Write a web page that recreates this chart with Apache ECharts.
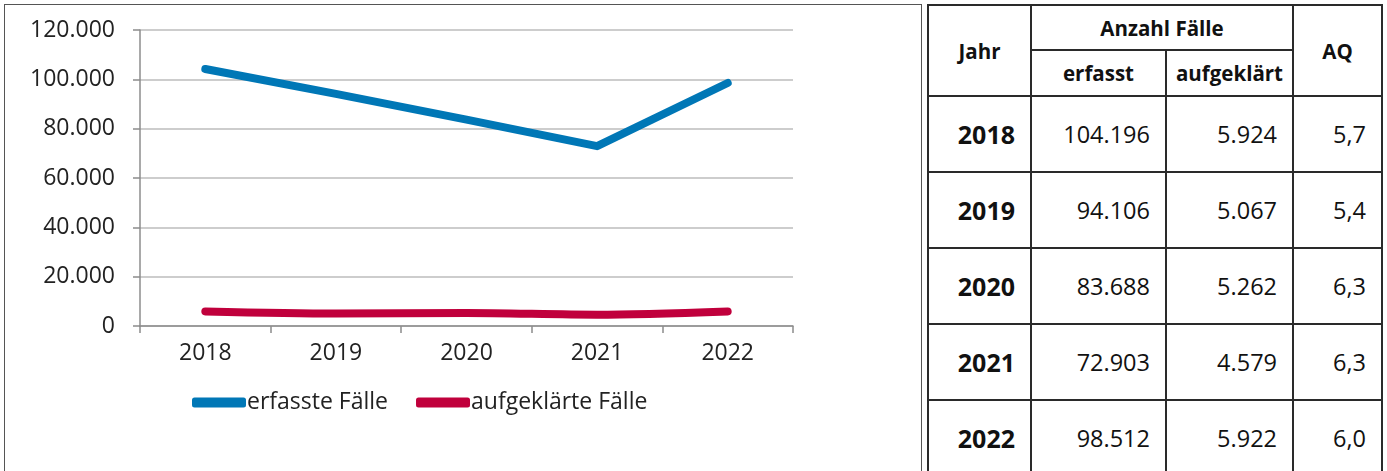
<!DOCTYPE html>
<html>
<head>
<meta charset="utf-8">
<script src="https://cdn.jsdelivr.net/npm/echarts@6/dist/echarts.min.js"></script>
<style>
    body {margin: 0; background: #fff; width: 1387px; height: 471px; overflow: hidden; position: relative; font-family: 'Open Sans', sans-serif; color: #111;}
    #frame {position: absolute; left: 4px; top: 4px; width: 918px; height: 540px; border: 1.5px solid #555; box-sizing: border-box;}
    #main {position: absolute; left: 0; top: 0; width: 922px; height: 471px;}
    #tbl {position: absolute; left: 927px; top: 4px; border-collapse: collapse; table-layout: fixed;}
    #tbl td {border: 2px solid #2a2a2a; padding: 0; vertical-align: middle;}
    #tbl .hd {font-weight: bold; font-size: 20.5px; text-align: center;}
    #tbl .yr {font-weight: bold; font-size: 25px; text-align: right; padding-right: 15px;}
    #tbl .num {font-size: 23.5px; text-align: right; padding-right: 15px;}
</style>
</head>
<body>
<div id="frame"></div>
<div id="main"></div>
<table id="tbl">
    <colgroup><col style="width:103px"><col style="width:135px"><col style="width:127px"><col style="width:89px"></colgroup>
    <tbody id="tb">
        <tr style="height:45px"><td class="hd" rowspan="2">Jahr</td><td class="hd" colspan="2">Anzahl Fälle</td><td class="hd" rowspan="2">AQ</td></tr>
        <tr style="height:46px"><td class="hd">erfasst</td><td class="hd">aufgeklärt</td></tr>
    </tbody>
</table>
<script>
// Daten
const years = ['2018', '2019', '2020', '2021', '2022'];
const erfasst = [104196, 94106, 83688, 72903, 98512];
const aufgeklaert = [5924, 5067, 5262, 4579, 5922];
const aq = [5.7, 5.4, 6.3, 6.3, 6.0];

// Tausenderpunkt
function fmt(v) {
    return String(v).replace(/\B(?=(\d{3})+(?!\d))/g, '.');
}

// Tabelle rechts
let tb = document.getElementById('tb');
years.forEach(function (y, i) {
    let tr = document.createElement('tr');
    tr.style.height = '76px';
    tr.innerHTML = '<td class="yr">' + y + '</td>' +
        '<td class="num">' + fmt(erfasst[i]) + '</td>' +
        '<td class="num">' + fmt(aufgeklaert[i]) + '</td>' +
        '<td class="num">' + aq[i].toFixed(1).replace('.', ',') + '</td>';
    tb.appendChild(tr);
});

let myChart = echarts.init(document.getElementById('main'));
const labelFont = {color: '#222', fontSize: 23, fontFamily: 'Open Sans'};
const options = {
    animation: false,
    grid: {left: 140, right: 129, top: 30, bottom: 145},
    legend: {
        left: 187,
        top: 386,
        itemWidth: 54,
        itemHeight: 10,
        itemGap: 28,
        icon: 'roundRect',
        textStyle: {color: '#222', fontSize: 23, fontFamily: 'Open Sans', padding: [0, 0, 0, -4]},
        data: ['erfasste Fälle', 'aufgeklärte Fälle']
    },
    xAxis: {
        type: 'category',
        data: years,
        boundaryGap: true,
        axisLine: {lineStyle: {color: '#8c8c8c', width: 1.5}},
        axisTick: {show: true, length: 7, lineStyle: {color: '#8c8c8c', width: 1.5}},
        axisLabel: Object.assign({margin: 16}, labelFont)
    },
    yAxis: {
        type: 'value',
        min: 0,
        max: 120000,
        interval: 20000,
        axisLine: {show: true, lineStyle: {color: '#8c8c8c', width: 1.5}},
        axisTick: {show: true, length: 7, lineStyle: {color: '#8c8c8c', width: 1.5}},
        splitLine: {lineStyle: {color: '#bdbdbd', width: 1.5}},
        axisLabel: Object.assign({margin: 25, formatter: fmt}, labelFont)
    },
    series: [
        {
            name: 'erfasste Fälle',
            type: 'line',
            data: erfasst,
            showSymbol: false,
            color: '#0077b6',
            lineStyle: {width: 8, cap: 'round', join: 'round'}
        },
        {
            name: 'aufgeklärte Fälle',
            type: 'line',
            data: aufgeklaert,
            showSymbol: false,
            smooth: 0.3,
            color: '#c0003c',
            lineStyle: {width: 8, cap: 'round', join: 'round'}
        }
    ]
};
myChart.setOption(options);
</script>
</body>
</html>
